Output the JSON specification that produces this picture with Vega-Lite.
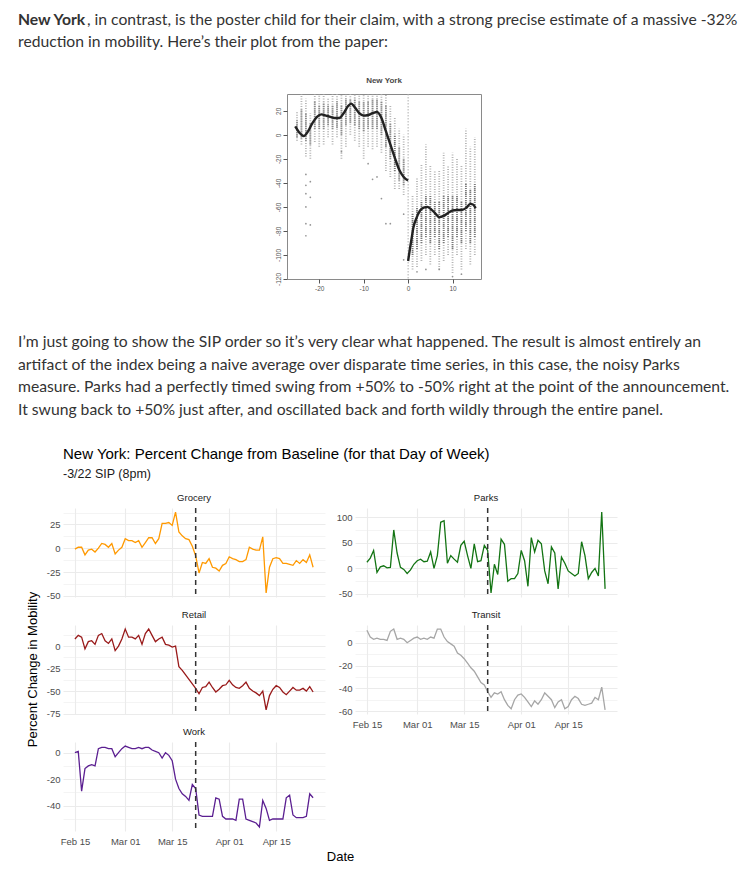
{
"$schema": "https://vega.github.io/schema/vega-lite/v6.json",
"background": "white",
"padding": 0,
"autosize": {"type": "pad"},
"spacing": 0,
"config": {
  "view": {"stroke": null},
  "font": "Liberation Sans",
  "axis": {"labelFont": "Liberation Sans", "titleFont": "Liberation Sans", "labelFlush": false, "labelOverlap": false},
  "axisX": {"labelOverlap": false},
  "axisY": {"labelOverlap": false},
  "title": {"font": "Liberation Sans", "subtitleFont": "Liberation Sans"}
},
"datasets": {
  "blog": [
    {"block": "intro", "line": 1, "weight": "bold", "text": "New York"},
    {"block": "intro", "line": 1, "weight": "normal", "text": ", in contrast, is the poster child for their claim, with a strong precise estimate of a massive -32%"},
    {"block": "intro", "line": 2, "weight": "normal", "text": "reduction in mobility. Here’s their plot from the paper:"},
    {"block": "para", "line": 1, "weight": "normal", "text": "I’m just going to show the SIP order so it’s very clear what happened. The result is almost entirely an"},
    {"block": "para", "line": 2, "weight": "normal", "text": "artifact of the index being a naive average over disparate time series, in this case, the noisy Parks"},
    {"block": "para", "line": 3, "weight": "normal", "text": "measure. Parks had a perfectly timed swing from +50% to -50% right at the point of the announcement."},
    {"block": "para", "line": 4, "weight": "normal", "text": "It swung back to +50% just after, and oscillated back and forth wildly through the entire panel."}
  ],
  "ny_zero": [{"day": 0}],
  "ny_cols": [
    {"day": -25, "lo": -5, "hi": 20, "lo2": -2, "hi2": 12},
    {"day": -24, "lo": -8, "hi": 34, "lo2": -3, "hi2": 22},
    {"day": -23, "lo": -18, "hi": 30, "lo2": -5, "hi2": 18},
    {"day": -22, "lo": -20, "hi": 18, "lo2": -8, "hi2": 10},
    {"day": -21, "lo": -6, "hi": 34, "lo2": 5, "hi2": 28},
    {"day": -20, "lo": -10, "hi": 34, "lo2": 5, "hi2": 25},
    {"day": -19, "lo": -8, "hi": 34, "lo2": 5, "hi2": 27},
    {"day": -18, "lo": -2, "hi": 30, "lo2": 8, "hi2": 25},
    {"day": -17, "lo": -8, "hi": 34, "lo2": 5, "hi2": 25},
    {"day": -16, "lo": -2, "hi": 34, "lo2": 6, "hi2": 28},
    {"day": -15, "lo": -20, "hi": 34, "lo2": 0, "hi2": 25},
    {"day": -14, "lo": -10, "hi": 34, "lo2": 8, "hi2": 30},
    {"day": -13, "lo": 0, "hi": 34, "lo2": 10, "hi2": 30},
    {"day": -12, "lo": -5, "hi": 34, "lo2": 8, "hi2": 30},
    {"day": -11, "lo": -10, "hi": 34, "lo2": 5, "hi2": 28},
    {"day": -10, "lo": -20, "hi": 34, "lo2": 3, "hi2": 28},
    {"day": -9, "lo": -10, "hi": 34, "lo2": 5, "hi2": 28},
    {"day": -8, "lo": -12, "hi": 34, "lo2": 5, "hi2": 30},
    {"day": -7, "lo": -10, "hi": 34, "lo2": 5, "hi2": 30},
    {"day": -6, "lo": -15, "hi": 34, "lo2": 0, "hi2": 28},
    {"day": -5, "lo": -30, "hi": 34, "lo2": -10, "hi2": 25},
    {"day": -4, "lo": -35, "hi": 25, "lo2": -20, "hi2": 10},
    {"day": -3, "lo": -45, "hi": 15, "lo2": -30, "hi2": 0},
    {"day": -2, "lo": -45, "hi": 5, "lo2": -38, "hi2": -10},
    {"day": -1, "lo": -50, "hi": 0, "lo2": -42, "hi2": -20},
    {"day": 1, "lo": -112, "hi": -50, "lo2": -100, "hi2": -65},
    {"day": 2, "lo": -110, "hi": -35, "lo2": -95, "hi2": -60},
    {"day": 3, "lo": -105, "hi": -25, "lo2": -90, "hi2": -55},
    {"day": 4, "lo": -100, "hi": -8, "lo2": -85, "hi2": -50},
    {"day": 5, "lo": -108, "hi": -25, "lo2": -90, "hi2": -50},
    {"day": 6, "lo": -100, "hi": -30, "lo2": -85, "hi2": -55},
    {"day": 7, "lo": -112, "hi": -30, "lo2": -95, "hi2": -55},
    {"day": 8, "lo": -105, "hi": -15, "lo2": -90, "hi2": -50},
    {"day": 9, "lo": -100, "hi": -25, "lo2": -85, "hi2": -50},
    {"day": 10, "lo": -115, "hi": -15, "lo2": -95, "hi2": -50},
    {"day": 11, "lo": -100, "hi": -20, "lo2": -85, "hi2": -50},
    {"day": 12, "lo": -112, "hi": -25, "lo2": -90, "hi2": -55},
    {"day": 13, "lo": -95, "hi": 5, "lo2": -80, "hi2": -40},
    {"day": 14, "lo": -108, "hi": -10, "lo2": -90, "hi2": -45},
    {"day": 15, "lo": -100, "hi": -2, "lo2": -85, "hi2": -40}
  ],
  "ny_out": [
    {"day": -23, "y": -33}, {"day": -23, "y": -42}, {"day": -23, "y": -49}, {"day": -23, "y": -60},
    {"day": -23, "y": -74}, {"day": -23, "y": -84}, {"day": -22, "y": -39}, {"day": -22, "y": -52},
    {"day": -22, "y": -75}, {"day": -15, "y": -14}, {"day": -9, "y": -24}, {"day": -8, "y": -37},
    {"day": -7, "y": -35}, {"day": -6, "y": -53}, {"day": -5, "y": -74}, {"day": -4, "y": -74},
    {"day": -1, "y": -66}, {"day": -1, "y": -104}, {"day": 2, "y": -114}, {"day": 4, "y": -112},
    {"day": 7, "y": -112}, {"day": 10, "y": -118}, {"day": 12, "y": -116}
  ],
  "ny_fit": [
    {"seg": "pre", "day": -25.4, "fit": 7}, {"seg": "pre", "day": -24.5, "fit": 2}, {"seg": "pre", "day": -23.5, "fit": -1},
    {"seg": "pre", "day": -22.5, "fit": 3}, {"seg": "pre", "day": -21.5, "fit": 10}, {"seg": "pre", "day": -20.5, "fit": 15},
    {"seg": "pre", "day": -19.5, "fit": 17}, {"seg": "pre", "day": -18.5, "fit": 16}, {"seg": "pre", "day": -17.5, "fit": 15},
    {"seg": "pre", "day": -16.5, "fit": 14}, {"seg": "pre", "day": -15.5, "fit": 14}, {"seg": "pre", "day": -14.5, "fit": 18},
    {"seg": "pre", "day": -13.5, "fit": 24}, {"seg": "pre", "day": -12.8, "fit": 26}, {"seg": "pre", "day": -12, "fit": 23},
    {"seg": "pre", "day": -11, "fit": 18}, {"seg": "pre", "day": -10, "fit": 16}, {"seg": "pre", "day": -9, "fit": 16.5},
    {"seg": "pre", "day": -8, "fit": 18}, {"seg": "pre", "day": -7, "fit": 19}, {"seg": "pre", "day": -6, "fit": 14},
    {"seg": "pre", "day": -5, "fit": 3}, {"seg": "pre", "day": -4, "fit": -8}, {"seg": "pre", "day": -3, "fit": -19},
    {"seg": "pre", "day": -2, "fit": -29}, {"seg": "pre", "day": -1, "fit": -35}, {"seg": "pre", "day": 0, "fit": -38},
    {"seg": "post", "day": 0, "fit": -105}, {"seg": "post", "day": 0.4, "fit": -95}, {"seg": "post", "day": 0.8, "fit": -86},
    {"seg": "post", "day": 1.2, "fit": -77}, {"seg": "post", "day": 1.8, "fit": -70}, {"seg": "post", "day": 2.7, "fit": -63},
    {"seg": "post", "day": 3.5, "fit": -60.5}, {"seg": "post", "day": 4.3, "fit": -60}, {"seg": "post", "day": 5.2, "fit": -62},
    {"seg": "post", "day": 6, "fit": -65}, {"seg": "post", "day": 7, "fit": -68.5}, {"seg": "post", "day": 8, "fit": -67.5},
    {"seg": "post", "day": 9, "fit": -65}, {"seg": "post", "day": 10, "fit": -63}, {"seg": "post", "day": 11, "fit": -62.5},
    {"seg": "post", "day": 12, "fit": -62.5}, {"seg": "post", "day": 13, "fit": -61}, {"seg": "post", "day": 14, "fit": -57.5},
    {"seg": "post", "day": 14.6, "fit": -58}, {"seg": "post", "day": 15.2, "fit": -61}
  ],
  "sip": [{"event": "SIP", "date": "2020-03-22"}],
  "mobility": [
{"cat":"Grocery","date":"2020-02-15","pct":-1},{"cat":"Grocery","date":"2020-02-16","pct":1},{"cat":"Grocery","date":"2020-02-17","pct":1},{"cat":"Grocery","date":"2020-02-18","pct":-7},{"cat":"Grocery","date":"2020-02-19","pct":-2},{"cat":"Grocery","date":"2020-02-20","pct":-1},{"cat":"Grocery","date":"2020-02-21","pct":-4},{"cat":"Grocery","date":"2020-02-22","pct":0},{"cat":"Grocery","date":"2020-02-23","pct":5},{"cat":"Grocery","date":"2020-02-24","pct":4},
{"cat":"Grocery","date":"2020-02-25","pct":1},{"cat":"Grocery","date":"2020-02-26","pct":5},{"cat":"Grocery","date":"2020-02-27","pct":-6},{"cat":"Grocery","date":"2020-02-28","pct":-2},{"cat":"Grocery","date":"2020-02-29","pct":1},{"cat":"Grocery","date":"2020-03-01","pct":10},{"cat":"Grocery","date":"2020-03-02","pct":8},{"cat":"Grocery","date":"2020-03-03","pct":8},{"cat":"Grocery","date":"2020-03-04","pct":6},{"cat":"Grocery","date":"2020-03-05","pct":8},
{"cat":"Grocery","date":"2020-03-06","pct":1},{"cat":"Grocery","date":"2020-03-07","pct":6},{"cat":"Grocery","date":"2020-03-08","pct":11},{"cat":"Grocery","date":"2020-03-09","pct":11},{"cat":"Grocery","date":"2020-03-10","pct":5},{"cat":"Grocery","date":"2020-03-11","pct":10},{"cat":"Grocery","date":"2020-03-12","pct":26},{"cat":"Grocery","date":"2020-03-13","pct":26},{"cat":"Grocery","date":"2020-03-14","pct":27},{"cat":"Grocery","date":"2020-03-15","pct":24},
{"cat":"Grocery","date":"2020-03-16","pct":38},{"cat":"Grocery","date":"2020-03-17","pct":17},{"cat":"Grocery","date":"2020-03-18","pct":13},{"cat":"Grocery","date":"2020-03-19","pct":10},{"cat":"Grocery","date":"2020-03-20","pct":9},{"cat":"Grocery","date":"2020-03-21","pct":2},{"cat":"Grocery","date":"2020-03-22","pct":-8},{"cat":"Grocery","date":"2020-03-23","pct":-26},{"cat":"Grocery","date":"2020-03-24","pct":-15},{"cat":"Grocery","date":"2020-03-25","pct":-16},
{"cat":"Grocery","date":"2020-03-26","pct":-11},{"cat":"Grocery","date":"2020-03-27","pct":-20},{"cat":"Grocery","date":"2020-03-28","pct":-21},{"cat":"Grocery","date":"2020-03-29","pct":-24},{"cat":"Grocery","date":"2020-03-30","pct":-18},{"cat":"Grocery","date":"2020-03-31","pct":-16},{"cat":"Grocery","date":"2020-04-01","pct":-9},{"cat":"Grocery","date":"2020-04-02","pct":-11},{"cat":"Grocery","date":"2020-04-03","pct":-12},{"cat":"Grocery","date":"2020-04-04","pct":-14},
{"cat":"Grocery","date":"2020-04-05","pct":-14},{"cat":"Grocery","date":"2020-04-06","pct":-12},{"cat":"Grocery","date":"2020-04-07","pct":1},{"cat":"Grocery","date":"2020-04-08","pct":-1},{"cat":"Grocery","date":"2020-04-09","pct":-2},{"cat":"Grocery","date":"2020-04-10","pct":-2},{"cat":"Grocery","date":"2020-04-11","pct":12},{"cat":"Grocery","date":"2020-04-12","pct":-47},{"cat":"Grocery","date":"2020-04-13","pct":-20},{"cat":"Grocery","date":"2020-04-14","pct":-11},
{"cat":"Grocery","date":"2020-04-15","pct":-10},{"cat":"Grocery","date":"2020-04-16","pct":-11},{"cat":"Grocery","date":"2020-04-17","pct":-16},{"cat":"Grocery","date":"2020-04-18","pct":-16},{"cat":"Grocery","date":"2020-04-19","pct":-17},{"cat":"Grocery","date":"2020-04-20","pct":-18},{"cat":"Grocery","date":"2020-04-21","pct":-13},{"cat":"Grocery","date":"2020-04-22","pct":-16},{"cat":"Grocery","date":"2020-04-23","pct":-12},{"cat":"Grocery","date":"2020-04-24","pct":-15},
{"cat":"Grocery","date":"2020-04-25","pct":-7},{"cat":"Grocery","date":"2020-04-26","pct":-20},
{"cat":"Parks","date":"2020-02-15","pct":12},{"cat":"Parks","date":"2020-02-16","pct":20},{"cat":"Parks","date":"2020-02-17","pct":35},{"cat":"Parks","date":"2020-02-18","pct":-8},{"cat":"Parks","date":"2020-02-19","pct":3},{"cat":"Parks","date":"2020-02-20","pct":5},{"cat":"Parks","date":"2020-02-21","pct":1},{"cat":"Parks","date":"2020-02-22","pct":2},{"cat":"Parks","date":"2020-02-23","pct":75},{"cat":"Parks","date":"2020-02-24","pct":30},
{"cat":"Parks","date":"2020-02-25","pct":2},{"cat":"Parks","date":"2020-02-26","pct":-2},{"cat":"Parks","date":"2020-02-27","pct":-10},{"cat":"Parks","date":"2020-02-28","pct":-3},{"cat":"Parks","date":"2020-02-29","pct":8},{"cat":"Parks","date":"2020-03-01","pct":15},{"cat":"Parks","date":"2020-03-02","pct":18},{"cat":"Parks","date":"2020-03-03","pct":13},{"cat":"Parks","date":"2020-03-04","pct":14},{"cat":"Parks","date":"2020-03-05","pct":32},
{"cat":"Parks","date":"2020-03-06","pct":0},{"cat":"Parks","date":"2020-03-07","pct":25},{"cat":"Parks","date":"2020-03-08","pct":90},{"cat":"Parks","date":"2020-03-09","pct":93},{"cat":"Parks","date":"2020-03-10","pct":10},{"cat":"Parks","date":"2020-03-11","pct":25},{"cat":"Parks","date":"2020-03-12","pct":18},{"cat":"Parks","date":"2020-03-13","pct":12},{"cat":"Parks","date":"2020-03-14","pct":45},{"cat":"Parks","date":"2020-03-15","pct":53},
{"cat":"Parks","date":"2020-03-16","pct":25},{"cat":"Parks","date":"2020-03-17","pct":0},{"cat":"Parks","date":"2020-03-18","pct":48},{"cat":"Parks","date":"2020-03-19","pct":13},{"cat":"Parks","date":"2020-03-20","pct":15},{"cat":"Parks","date":"2020-03-21","pct":45},{"cat":"Parks","date":"2020-03-22","pct":35},{"cat":"Parks","date":"2020-03-23","pct":-48},{"cat":"Parks","date":"2020-03-24","pct":8},{"cat":"Parks","date":"2020-03-25","pct":-12},
{"cat":"Parks","date":"2020-03-26","pct":57},{"cat":"Parks","date":"2020-03-27","pct":47},{"cat":"Parks","date":"2020-03-28","pct":-25},{"cat":"Parks","date":"2020-03-29","pct":-20},{"cat":"Parks","date":"2020-03-30","pct":-20},{"cat":"Parks","date":"2020-03-31","pct":-10},{"cat":"Parks","date":"2020-04-01","pct":35},{"cat":"Parks","date":"2020-04-02","pct":15},{"cat":"Parks","date":"2020-04-03","pct":-35},{"cat":"Parks","date":"2020-04-04","pct":60},
{"cat":"Parks","date":"2020-04-05","pct":32},{"cat":"Parks","date":"2020-04-06","pct":55},{"cat":"Parks","date":"2020-04-07","pct":48},{"cat":"Parks","date":"2020-04-08","pct":-5},{"cat":"Parks","date":"2020-04-09","pct":-30},{"cat":"Parks","date":"2020-04-10","pct":42},{"cat":"Parks","date":"2020-04-11","pct":30},{"cat":"Parks","date":"2020-04-12","pct":-40},{"cat":"Parks","date":"2020-04-13","pct":22},{"cat":"Parks","date":"2020-04-14","pct":10},
{"cat":"Parks","date":"2020-04-15","pct":-5},{"cat":"Parks","date":"2020-04-16","pct":-10},{"cat":"Parks","date":"2020-04-17","pct":-15},{"cat":"Parks","date":"2020-04-18","pct":-10},{"cat":"Parks","date":"2020-04-19","pct":52},{"cat":"Parks","date":"2020-04-20","pct":25},{"cat":"Parks","date":"2020-04-21","pct":-20},{"cat":"Parks","date":"2020-04-22","pct":-8},{"cat":"Parks","date":"2020-04-23","pct":0},{"cat":"Parks","date":"2020-04-24","pct":-15},
{"cat":"Parks","date":"2020-04-25","pct":110},{"cat":"Parks","date":"2020-04-26","pct":-40},
{"cat":"Retail","date":"2020-02-15","pct":8},{"cat":"Retail","date":"2020-02-16","pct":12},{"cat":"Retail","date":"2020-02-17","pct":10},{"cat":"Retail","date":"2020-02-18","pct":-3},{"cat":"Retail","date":"2020-02-19","pct":5},{"cat":"Retail","date":"2020-02-20","pct":6},{"cat":"Retail","date":"2020-02-21","pct":2},{"cat":"Retail","date":"2020-02-22","pct":12},{"cat":"Retail","date":"2020-02-23","pct":14},{"cat":"Retail","date":"2020-02-24","pct":6},
{"cat":"Retail","date":"2020-02-25","pct":3},{"cat":"Retail","date":"2020-02-26","pct":8},{"cat":"Retail","date":"2020-02-27","pct":-5},{"cat":"Retail","date":"2020-02-28","pct":0},{"cat":"Retail","date":"2020-02-29","pct":8},{"cat":"Retail","date":"2020-03-01","pct":19},{"cat":"Retail","date":"2020-03-02","pct":10},{"cat":"Retail","date":"2020-03-03","pct":10},{"cat":"Retail","date":"2020-03-04","pct":8},{"cat":"Retail","date":"2020-03-05","pct":12},
{"cat":"Retail","date":"2020-03-06","pct":2},{"cat":"Retail","date":"2020-03-07","pct":14},{"cat":"Retail","date":"2020-03-08","pct":19},{"cat":"Retail","date":"2020-03-09","pct":12},{"cat":"Retail","date":"2020-03-10","pct":5},{"cat":"Retail","date":"2020-03-11","pct":8},{"cat":"Retail","date":"2020-03-12","pct":10},{"cat":"Retail","date":"2020-03-13","pct":2},{"cat":"Retail","date":"2020-03-14","pct":1},{"cat":"Retail","date":"2020-03-15","pct":-1},
{"cat":"Retail","date":"2020-03-16","pct":0},{"cat":"Retail","date":"2020-03-17","pct":-23},{"cat":"Retail","date":"2020-03-18","pct":-27},{"cat":"Retail","date":"2020-03-19","pct":-32},{"cat":"Retail","date":"2020-03-20","pct":-37},{"cat":"Retail","date":"2020-03-21","pct":-42},{"cat":"Retail","date":"2020-03-22","pct":-47},{"cat":"Retail","date":"2020-03-23","pct":-53},{"cat":"Retail","date":"2020-03-24","pct":-46},{"cat":"Retail","date":"2020-03-25","pct":-45},
{"cat":"Retail","date":"2020-03-26","pct":-40},{"cat":"Retail","date":"2020-03-27","pct":-46},{"cat":"Retail","date":"2020-03-28","pct":-51},{"cat":"Retail","date":"2020-03-29","pct":-48},{"cat":"Retail","date":"2020-03-30","pct":-44},{"cat":"Retail","date":"2020-03-31","pct":-43},{"cat":"Retail","date":"2020-04-01","pct":-38},{"cat":"Retail","date":"2020-04-02","pct":-43},{"cat":"Retail","date":"2020-04-03","pct":-46},{"cat":"Retail","date":"2020-04-04","pct":-47},
{"cat":"Retail","date":"2020-04-05","pct":-44},{"cat":"Retail","date":"2020-04-06","pct":-40},{"cat":"Retail","date":"2020-04-07","pct":-47},{"cat":"Retail","date":"2020-04-08","pct":-50},{"cat":"Retail","date":"2020-04-09","pct":-52},{"cat":"Retail","date":"2020-04-10","pct":-55},{"cat":"Retail","date":"2020-04-11","pct":-50},{"cat":"Retail","date":"2020-04-12","pct":-71},{"cat":"Retail","date":"2020-04-13","pct":-55},{"cat":"Retail","date":"2020-04-14","pct":-48},
{"cat":"Retail","date":"2020-04-15","pct":-44},{"cat":"Retail","date":"2020-04-16","pct":-46},{"cat":"Retail","date":"2020-04-17","pct":-51},{"cat":"Retail","date":"2020-04-18","pct":-54},{"cat":"Retail","date":"2020-04-19","pct":-50},{"cat":"Retail","date":"2020-04-20","pct":-46},{"cat":"Retail","date":"2020-04-21","pct":-49},{"cat":"Retail","date":"2020-04-22","pct":-49},{"cat":"Retail","date":"2020-04-23","pct":-47},{"cat":"Retail","date":"2020-04-24","pct":-50},
{"cat":"Retail","date":"2020-04-25","pct":-45},{"cat":"Retail","date":"2020-04-26","pct":-51},
{"cat":"Transit","date":"2020-02-15","pct":11},{"cat":"Transit","date":"2020-02-16","pct":5},{"cat":"Transit","date":"2020-02-17","pct":3},{"cat":"Transit","date":"2020-02-18","pct":4},{"cat":"Transit","date":"2020-02-19","pct":3},{"cat":"Transit","date":"2020-02-20","pct":3},{"cat":"Transit","date":"2020-02-21","pct":2},{"cat":"Transit","date":"2020-02-22","pct":10},{"cat":"Transit","date":"2020-02-23","pct":12},{"cat":"Transit","date":"2020-02-24","pct":3},
{"cat":"Transit","date":"2020-02-25","pct":4},{"cat":"Transit","date":"2020-02-26","pct":3},{"cat":"Transit","date":"2020-02-27","pct":0},{"cat":"Transit","date":"2020-02-28","pct":2},{"cat":"Transit","date":"2020-02-29","pct":4},{"cat":"Transit","date":"2020-03-01","pct":5},{"cat":"Transit","date":"2020-03-02","pct":3},{"cat":"Transit","date":"2020-03-03","pct":4},{"cat":"Transit","date":"2020-03-04","pct":3},{"cat":"Transit","date":"2020-03-05","pct":5},
{"cat":"Transit","date":"2020-03-06","pct":4},{"cat":"Transit","date":"2020-03-07","pct":12},{"cat":"Transit","date":"2020-03-08","pct":12},{"cat":"Transit","date":"2020-03-09","pct":5},{"cat":"Transit","date":"2020-03-10","pct":1},{"cat":"Transit","date":"2020-03-11","pct":-1},{"cat":"Transit","date":"2020-03-12","pct":-3},{"cat":"Transit","date":"2020-03-13","pct":-9},{"cat":"Transit","date":"2020-03-14","pct":-11},{"cat":"Transit","date":"2020-03-15","pct":-14},
{"cat":"Transit","date":"2020-03-16","pct":-18},{"cat":"Transit","date":"2020-03-17","pct":-22},{"cat":"Transit","date":"2020-03-18","pct":-25},{"cat":"Transit","date":"2020-03-19","pct":-30},{"cat":"Transit","date":"2020-03-20","pct":-35},{"cat":"Transit","date":"2020-03-21","pct":-37},{"cat":"Transit","date":"2020-03-22","pct":-43},{"cat":"Transit","date":"2020-03-23","pct":-48},{"cat":"Transit","date":"2020-03-24","pct":-44},{"cat":"Transit","date":"2020-03-25","pct":-45},
{"cat":"Transit","date":"2020-03-26","pct":-43},{"cat":"Transit","date":"2020-03-27","pct":-50},{"cat":"Transit","date":"2020-03-28","pct":-55},{"cat":"Transit","date":"2020-03-29","pct":-58},{"cat":"Transit","date":"2020-03-30","pct":-50},{"cat":"Transit","date":"2020-03-31","pct":-46},{"cat":"Transit","date":"2020-04-01","pct":-45},{"cat":"Transit","date":"2020-04-02","pct":-48},{"cat":"Transit","date":"2020-04-03","pct":-52},{"cat":"Transit","date":"2020-04-04","pct":-56},
{"cat":"Transit","date":"2020-04-05","pct":-51},{"cat":"Transit","date":"2020-04-06","pct":-54},{"cat":"Transit","date":"2020-04-07","pct":-50},{"cat":"Transit","date":"2020-04-08","pct":-44},{"cat":"Transit","date":"2020-04-09","pct":-47},{"cat":"Transit","date":"2020-04-10","pct":-50},{"cat":"Transit","date":"2020-04-11","pct":-57},{"cat":"Transit","date":"2020-04-12","pct":-52},{"cat":"Transit","date":"2020-04-13","pct":-50},{"cat":"Transit","date":"2020-04-14","pct":-58},
{"cat":"Transit","date":"2020-04-15","pct":-56},{"cat":"Transit","date":"2020-04-16","pct":-50},{"cat":"Transit","date":"2020-04-17","pct":-47},{"cat":"Transit","date":"2020-04-18","pct":-49},{"cat":"Transit","date":"2020-04-19","pct":-54},{"cat":"Transit","date":"2020-04-20","pct":-55},{"cat":"Transit","date":"2020-04-21","pct":-54},{"cat":"Transit","date":"2020-04-22","pct":-53},{"cat":"Transit","date":"2020-04-23","pct":-48},{"cat":"Transit","date":"2020-04-24","pct":-50},
{"cat":"Transit","date":"2020-04-25","pct":-39},{"cat":"Transit","date":"2020-04-26","pct":-59},
{"cat":"Work","date":"2020-02-15","pct":0},{"cat":"Work","date":"2020-02-16","pct":1},{"cat":"Work","date":"2020-02-17","pct":-29},{"cat":"Work","date":"2020-02-18","pct":-12},{"cat":"Work","date":"2020-02-19","pct":-10},{"cat":"Work","date":"2020-02-20","pct":-9},{"cat":"Work","date":"2020-02-21","pct":-10},{"cat":"Work","date":"2020-02-22","pct":3},{"cat":"Work","date":"2020-02-23","pct":4},{"cat":"Work","date":"2020-02-24","pct":4},
{"cat":"Work","date":"2020-02-25","pct":3},{"cat":"Work","date":"2020-02-26","pct":3},{"cat":"Work","date":"2020-02-27","pct":-3},{"cat":"Work","date":"2020-02-28","pct":0},{"cat":"Work","date":"2020-02-29","pct":3},{"cat":"Work","date":"2020-03-01","pct":5},{"cat":"Work","date":"2020-03-02","pct":4},{"cat":"Work","date":"2020-03-03","pct":3},{"cat":"Work","date":"2020-03-04","pct":3},{"cat":"Work","date":"2020-03-05","pct":4},
{"cat":"Work","date":"2020-03-06","pct":3},{"cat":"Work","date":"2020-03-07","pct":4},{"cat":"Work","date":"2020-03-08","pct":4},{"cat":"Work","date":"2020-03-09","pct":2},{"cat":"Work","date":"2020-03-10","pct":1},{"cat":"Work","date":"2020-03-11","pct":0},{"cat":"Work","date":"2020-03-12","pct":-4},{"cat":"Work","date":"2020-03-13","pct":0},{"cat":"Work","date":"2020-03-14","pct":-2},{"cat":"Work","date":"2020-03-15","pct":-6},
{"cat":"Work","date":"2020-03-16","pct":-20},{"cat":"Work","date":"2020-03-17","pct":-27},{"cat":"Work","date":"2020-03-18","pct":-31},{"cat":"Work","date":"2020-03-19","pct":-33},{"cat":"Work","date":"2020-03-20","pct":-36},{"cat":"Work","date":"2020-03-21","pct":-24},{"cat":"Work","date":"2020-03-22","pct":-27},{"cat":"Work","date":"2020-03-23","pct":-47},{"cat":"Work","date":"2020-03-24","pct":-48},{"cat":"Work","date":"2020-03-25","pct":-48},
{"cat":"Work","date":"2020-03-26","pct":-48},{"cat":"Work","date":"2020-03-27","pct":-48},{"cat":"Work","date":"2020-03-28","pct":-34},{"cat":"Work","date":"2020-03-29","pct":-35},{"cat":"Work","date":"2020-03-30","pct":-48},{"cat":"Work","date":"2020-03-31","pct":-50},{"cat":"Work","date":"2020-04-01","pct":-50},{"cat":"Work","date":"2020-04-02","pct":-50},{"cat":"Work","date":"2020-04-03","pct":-51},{"cat":"Work","date":"2020-04-04","pct":-35},
{"cat":"Work","date":"2020-04-05","pct":-35},{"cat":"Work","date":"2020-04-06","pct":-50},{"cat":"Work","date":"2020-04-07","pct":-51},{"cat":"Work","date":"2020-04-08","pct":-52},{"cat":"Work","date":"2020-04-09","pct":-53},{"cat":"Work","date":"2020-04-10","pct":-56},{"cat":"Work","date":"2020-04-11","pct":-36},{"cat":"Work","date":"2020-04-12","pct":-42},{"cat":"Work","date":"2020-04-13","pct":-51},{"cat":"Work","date":"2020-04-14","pct":-50},
{"cat":"Work","date":"2020-04-15","pct":-50},{"cat":"Work","date":"2020-04-16","pct":-50},{"cat":"Work","date":"2020-04-17","pct":-50},{"cat":"Work","date":"2020-04-18","pct":-34},{"cat":"Work","date":"2020-04-19","pct":-32},{"cat":"Work","date":"2020-04-20","pct":-47},{"cat":"Work","date":"2020-04-21","pct":-49},{"cat":"Work","date":"2020-04-22","pct":-49},{"cat":"Work","date":"2020-04-23","pct":-49},{"cat":"Work","date":"2020-04-24","pct":-48},
{"cat":"Work","date":"2020-04-25","pct":-31},{"cat":"Work","date":"2020-04-26","pct":-34}
  ]
},
"vconcat": [
  {
    "width": 36, "height": 76,
    "data": {"name": "blog"},
    "transform": [{"filter": "datum.block === 'intro'"}],
    "encoding": {
      "y": {"field": "line", "type": "ordinal", "scale": {"type": "point", "range": [20, 42], "padding": 0}, "axis": null},
      "text": {"field": "text"}
    },
    "layer": [
      {"transform": [{"filter": "datum.weight === 'bold'"}], "mark": {"type": "text", "align": "left", "baseline": "middle", "font": "Lato", "fontSize": 15.7, "fontWeight": "bold", "color": "#333333"}},
      {"transform": [{"filter": "datum.weight === 'normal' && datum.line === 1"}], "mark": {"type": "text", "align": "left", "baseline": "middle", "font": "Lato", "fontSize": 15.7, "color": "#333333", "dx": 69}},
      {"transform": [{"filter": "datum.weight === 'normal' && datum.line !== 1"}], "mark": {"type": "text", "align": "left", "baseline": "middle", "font": "Lato", "fontSize": 15.7, "color": "#333333"}}
    ]
  },
  {
    "hconcat": [
      {"width": 287, "height": 185, "data": {"values": [{}]}, "mark": {"type": "point", "opacity": 0}},
      {
        "width": 194, "height": 185,
        "view": {"stroke": "#8a8a8a", "strokeWidth": 1},
        "title": {"text": "New York", "fontSize": 8, "fontWeight": "bold", "color": "#4a4a4a", "offset": 8, "anchor": "middle", "frame": "group"},
        "layer": [
          {"data": {"name": "ny_zero"}, "mark": {"type": "rule", "color": "#b0b0b0", "strokeDash": [1.5, 1.5], "strokeWidth": 1},
           "encoding": {"x": {"field": "day", "type": "quantitative", "title": null, "scale": {"domain": [-27.25, 16.4], "nice": false, "zero": false},
             "axis": {"values": [-20, -10, 0, 10], "labelExpr": "'' + datum.value", "grid": false, "domain": false, "ticks": true, "tickSize": 4, "tickColor": "#555555", "labelFontSize": 6.5, "labelColor": "#555555", "labelPadding": 2, "labelOverlap": false, "title": null}}}},
          {"data": {"name": "ny_cols"}, "mark": {"type": "rule", "color": "#b4b4b4", "strokeDash": [1, 1.5], "strokeWidth": 1.8},
           "encoding": {"x": {"field": "day", "type": "quantitative", "title": null},
             "y": {"field": "lo", "type": "quantitative", "title": null, "scale": {"domain": [-120, 34], "nice": false, "zero": false},
               "axis": {"values": [20, 0, -20, -40, -60, -80, -100, -120], "labelExpr": "'' + datum.value", "labelAngle": -90, "grid": false, "domain": false, "ticks": true, "tickSize": 4, "tickColor": "#555555", "labelFontSize": 6.5, "labelColor": "#555555", "labelPadding": 2, "labelOverlap": false, "title": null}},
             "y2": {"field": "hi"}}},
          {"data": {"name": "ny_cols"}, "mark": {"type": "rule", "color": "#7a7a7a", "strokeDash": [1, 1], "strokeWidth": 1.8},
           "encoding": {"x": {"field": "day", "type": "quantitative", "title": null},
             "y": {"field": "lo2", "type": "quantitative", "title": null,
               "axis": {"values": [20, 0, -20, -40, -60, -80, -100, -120], "labelExpr": "'' + datum.value", "labelAngle": -90, "grid": false, "domain": false, "ticks": true, "tickSize": 4, "tickColor": "#555555", "labelFontSize": 6.5, "labelColor": "#555555", "labelPadding": 2, "labelOverlap": false, "title": null}},
             "y2": {"field": "hi2"}}},
          {"data": {"name": "ny_out"}, "mark": {"type": "circle", "color": "#888888", "size": 3, "opacity": 0.9},
           "encoding": {"x": {"field": "day", "type": "quantitative", "title": null},
             "y": {"field": "y", "type": "quantitative", "title": null,
               "axis": {"values": [20, 0, -20, -40, -60, -80, -100, -120], "labelExpr": "'' + datum.value", "labelAngle": -90, "grid": false, "domain": false, "ticks": true, "tickSize": 4, "tickColor": "#555555", "labelFontSize": 6.5, "labelColor": "#555555", "labelPadding": 2, "labelOverlap": false, "title": null}}}},
          {"data": {"name": "ny_fit"}, "mark": {"type": "line", "color": "#222222", "strokeWidth": 2.4, "interpolate": "monotone"},
           "encoding": {"x": {"field": "day", "type": "quantitative", "title": null},
             "y": {"field": "fit", "type": "quantitative", "title": null,
               "axis": {"values": [20, 0, -20, -40, -60, -80, -100, -120], "labelExpr": "'' + datum.value", "labelAngle": -90, "grid": false, "domain": false, "ticks": true, "tickSize": 4, "tickColor": "#555555", "labelFontSize": 6.5, "labelColor": "#555555", "labelPadding": 2, "labelOverlap": false, "title": null}},
             "detail": {"field": "seg"}}}
        ]
      }
    ],
    "spacing": 0, "bounds": "flush"
  },
  {
    "width": 36, "height": 155,
    "data": {"name": "blog"},
    "transform": [{"filter": "datum.block === 'para'"}],
    "mark": {"type": "text", "align": "left", "baseline": "middle", "font": "Lato", "fontSize": 15.7, "color": "#333333"},
    "encoding": {
      "y": {"field": "line", "type": "ordinal", "scale": {"type": "point", "range": [50, 118], "padding": 0}, "axis": null},
      "text": {"field": "text"}
    }
  },
  {
    "hconcat": [
      {"width": 63, "height": 323, "data": {"values": [{}]}, "mark": {"type": "point", "opacity": 0}},
      {
        "title": {"text": "New York: Percent Change from Baseline (for that Day of Week)", "subtitle": "-3/22 SIP (8pm)", "anchor": "start", "frame": "group", "fontSize": 15, "fontWeight": "normal", "color": "#000000", "subtitleFontSize": 12.5, "subtitleColor": "#1a1a1a", "subtitlePadding": 6, "offset": 12},
        "columns": 2,
        "spacing": {"row": 28, "column": 30},
        "bounds": "flush",
        "concat": [
          {
            "width": 262, "height": 89,
            "title": {"text": "Grocery", "fontSize": 9.5, "fontWeight": "normal", "color": "#1a1a1a", "offset": 5, "anchor": "middle", "frame": "group"},
            "layer": [
              {"data": {"name": "mobility"},
               "transform": [{"filter": "datum.cat === 'Grocery'"}],
               "mark": {"type": "line", "color": "#ff9900", "strokeWidth": 1.3},
               "encoding": {
                 "x": {"field": "date", "type": "temporal", "title": null,
                   "scale": {"type": "utc", "domain": [{"year": 2020, "month": 2, "date": 11, "hours": 10, "minutes": 48, "utc": true}, {"year": 2020, "month": 4, "date": 29, "hours": 13, "minutes": 12, "utc": true}]},
                   "axis": {"values": [{"year": 2020, "month": 2, "date": 15, "utc": true}, {"year": 2020, "month": 2, "date": 22, "hours": 12, "utc": true}, {"year": 2020, "month": 3, "date": 1, "utc": true}, {"year": 2020, "month": 3, "date": 8, "utc": true}, {"year": 2020, "month": 3, "date": 15, "utc": true}, {"year": 2020, "month": 3, "date": 23, "hours": 12, "utc": true}, {"year": 2020, "month": 4, "date": 1, "utc": true}, {"year": 2020, "month": 4, "date": 8, "utc": true}, {"year": 2020, "month": 4, "date": 15, "utc": true}, {"year": 2020, "month": 4, "date": 23, "utc": true}],
                     "labels": false, "ticks": false, "domain": false, "grid": true, "gridColor": "#ebebeb",
                     "gridWidth": {"condition": {"test": "utcdate(datum.value) == 1 || utcdate(datum.value) == 15", "value": 1.1}, "value": 0.55}, "title": null}},
                 "y": {"field": "pct", "type": "quantitative", "scale": {"domain": [-51.25, 42.25], "nice": false, "zero": false},
                   "axis": {"values": [-50, -37.5, -25, -12.5, 0, 12.5, 25, 37.5], "labelExpr": "datum.value % 25 == 0 ? '' + datum.value : ''",
                     "ticks": false, "domain": false, "grid": true, "gridColor": "#ebebeb",
                     "gridWidth": {"condition": {"test": "datum.value % 25 == 0", "value": 1.1}, "value": 0.55},
                     "labelFontSize": 9.5, "labelColor": "#4d4d4d", "labelPadding": 3,
                     "title": "Percent Change in Mobility", "titleFontSize": 13, "titleFontWeight": "normal", "titleColor": "#000000",
                     "titleX": -31, "titleY": 161, "titleAngle": -90, "titleBaseline": "middle", "titleAlign": "center"}}
               }},
              {"data": {"name": "sip"},
               "mark": {"type": "rule", "color": "#333333", "strokeDash": [5, 4], "strokeWidth": 1.5},
               "encoding": {"x": {"field": "date", "type": "temporal", "title": null}}}
            ]
          },
          {
            "width": 262, "height": 89,
            "title": {"text": "Parks", "fontSize": 9.5, "fontWeight": "normal", "color": "#1a1a1a", "offset": 5, "anchor": "middle", "frame": "group"},
            "layer": [
              {"data": {"name": "mobility"},
               "transform": [{"filter": "datum.cat === 'Parks'"}],
               "mark": {"type": "line", "color": "#137413", "strokeWidth": 1.3},
               "encoding": {
                 "x": {"field": "date", "type": "temporal", "title": null,
                   "scale": {"type": "utc", "domain": [{"year": 2020, "month": 2, "date": 11, "hours": 10, "minutes": 48, "utc": true}, {"year": 2020, "month": 4, "date": 29, "hours": 13, "minutes": 12, "utc": true}]},
                   "axis": {"values": [{"year": 2020, "month": 2, "date": 15, "utc": true}, {"year": 2020, "month": 2, "date": 22, "hours": 12, "utc": true}, {"year": 2020, "month": 3, "date": 1, "utc": true}, {"year": 2020, "month": 3, "date": 8, "utc": true}, {"year": 2020, "month": 3, "date": 15, "utc": true}, {"year": 2020, "month": 3, "date": 23, "hours": 12, "utc": true}, {"year": 2020, "month": 4, "date": 1, "utc": true}, {"year": 2020, "month": 4, "date": 8, "utc": true}, {"year": 2020, "month": 4, "date": 15, "utc": true}, {"year": 2020, "month": 4, "date": 23, "utc": true}],
                     "labels": false, "ticks": false, "domain": false, "grid": true, "gridColor": "#ebebeb",
                     "gridWidth": {"condition": {"test": "utcdate(datum.value) == 1 || utcdate(datum.value) == 15", "value": 1.1}, "value": 0.55}, "title": null}},
                 "y": {"field": "pct", "type": "quantitative", "title": null, "scale": {"domain": [-55.9, 117.9], "nice": false, "zero": false},
                   "axis": {"values": [-50, -25, 0, 25, 50, 75, 100], "labelExpr": "datum.value % 50 == 0 ? '' + datum.value : ''",
                     "ticks": false, "domain": false, "grid": true, "gridColor": "#ebebeb",
                     "gridWidth": {"condition": {"test": "datum.value % 50 == 0", "value": 1.1}, "value": 0.55},
                     "labelFontSize": 9.5, "labelColor": "#4d4d4d", "labelPadding": 3, "title": null}}
               }},
              {"data": {"name": "sip"},
               "mark": {"type": "rule", "color": "#333333", "strokeDash": [5, 4], "strokeWidth": 1.5},
               "encoding": {"x": {"field": "date", "type": "temporal", "title": null}}}
            ]
          },
          {
            "width": 262, "height": 89,
            "title": {"text": "Retail", "fontSize": 9.5, "fontWeight": "normal", "color": "#1a1a1a", "offset": 5, "anchor": "middle", "frame": "group"},
            "layer": [
              {"data": {"name": "mobility"},
               "transform": [{"filter": "datum.cat === 'Retail'"}],
               "mark": {"type": "line", "color": "#991a1a", "strokeWidth": 1.3},
               "encoding": {
                 "x": {"field": "date", "type": "temporal", "title": null,
                   "scale": {"type": "utc", "domain": [{"year": 2020, "month": 2, "date": 11, "hours": 10, "minutes": 48, "utc": true}, {"year": 2020, "month": 4, "date": 29, "hours": 13, "minutes": 12, "utc": true}]},
                   "axis": {"values": [{"year": 2020, "month": 2, "date": 15, "utc": true}, {"year": 2020, "month": 2, "date": 22, "hours": 12, "utc": true}, {"year": 2020, "month": 3, "date": 1, "utc": true}, {"year": 2020, "month": 3, "date": 8, "utc": true}, {"year": 2020, "month": 3, "date": 15, "utc": true}, {"year": 2020, "month": 3, "date": 23, "hours": 12, "utc": true}, {"year": 2020, "month": 4, "date": 1, "utc": true}, {"year": 2020, "month": 4, "date": 8, "utc": true}, {"year": 2020, "month": 4, "date": 15, "utc": true}, {"year": 2020, "month": 4, "date": 23, "utc": true}],
                     "labels": false, "ticks": false, "domain": false, "grid": true, "gridColor": "#ebebeb",
                     "gridWidth": {"condition": {"test": "utcdate(datum.value) == 1 || utcdate(datum.value) == 15", "value": 1.1}, "value": 0.55}, "title": null}},
                 "y": {"field": "pct", "type": "quantitative", "title": null, "scale": {"domain": [-75.5, 23.5], "nice": false, "zero": false},
                   "axis": {"values": [-75, -62.5, -50, -37.5, -25, -12.5, 0, 12.5], "labelExpr": "datum.value % 25 == 0 ? '' + datum.value : ''",
                     "ticks": false, "domain": false, "grid": true, "gridColor": "#ebebeb",
                     "gridWidth": {"condition": {"test": "datum.value % 25 == 0", "value": 1.1}, "value": 0.55},
                     "labelFontSize": 9.5, "labelColor": "#4d4d4d", "labelPadding": 3, "title": null}}
               }},
              {"data": {"name": "sip"},
               "mark": {"type": "rule", "color": "#333333", "strokeDash": [5, 4], "strokeWidth": 1.5},
               "encoding": {"x": {"field": "date", "type": "temporal", "title": null}}}
            ]
          },
          {
            "width": 262, "height": 89,
            "title": {"text": "Transit", "fontSize": 9.5, "fontWeight": "normal", "color": "#1a1a1a", "offset": 5, "anchor": "middle", "frame": "group"},
            "layer": [
              {"data": {"name": "mobility"},
               "transform": [{"filter": "datum.cat === 'Transit'"}],
               "mark": {"type": "line", "color": "#a6a6a6", "strokeWidth": 1.3},
               "encoding": {
                 "x": {"field": "date", "type": "temporal", "title": null,
                   "scale": {"type": "utc", "domain": [{"year": 2020, "month": 2, "date": 11, "hours": 10, "minutes": 48, "utc": true}, {"year": 2020, "month": 4, "date": 29, "hours": 13, "minutes": 12, "utc": true}]},
                   "axis": {"values": [{"year": 2020, "month": 2, "date": 15, "utc": true}, {"year": 2020, "month": 2, "date": 22, "hours": 12, "utc": true}, {"year": 2020, "month": 3, "date": 1, "utc": true}, {"year": 2020, "month": 3, "date": 8, "utc": true}, {"year": 2020, "month": 3, "date": 15, "utc": true}, {"year": 2020, "month": 3, "date": 23, "hours": 12, "utc": true}, {"year": 2020, "month": 4, "date": 1, "utc": true}, {"year": 2020, "month": 4, "date": 8, "utc": true}, {"year": 2020, "month": 4, "date": 15, "utc": true}, {"year": 2020, "month": 4, "date": 23, "utc": true}],
                     "labelExpr": "utcdate(datum.value) == 1 || utcdate(datum.value) == 15 ? utcFormat(datum.value, '%b %d') : ''",
                     "labelFontSize": 9.5, "labelColor": "#4d4d4d", "labelPadding": 5,
                     "ticks": false, "domain": false, "grid": true, "gridColor": "#ebebeb",
                     "gridWidth": {"condition": {"test": "utcdate(datum.value) == 1 || utcdate(datum.value) == 15", "value": 1.1}, "value": 0.55}, "title": null}},
                 "y": {"field": "pct", "type": "quantitative", "title": null, "scale": {"domain": [-62.55, 15.55], "nice": false, "zero": false},
                   "axis": {"values": [-60, -50, -40, -30, -20, -10, 0, 10], "labelExpr": "datum.value % 20 == 0 ? '' + datum.value : ''",
                     "ticks": false, "domain": false, "grid": true, "gridColor": "#ebebeb",
                     "gridWidth": {"condition": {"test": "datum.value % 20 == 0", "value": 1.1}, "value": 0.55},
                     "labelFontSize": 9.5, "labelColor": "#4d4d4d", "labelPadding": 3, "title": null}}
               }},
              {"data": {"name": "sip"},
               "mark": {"type": "rule", "color": "#333333", "strokeDash": [5, 4], "strokeWidth": 1.5},
               "encoding": {"x": {"field": "date", "type": "temporal", "title": null}}}
            ]
          },
          {
            "width": 262, "height": 89,
            "title": {"text": "Work", "fontSize": 9.5, "fontWeight": "normal", "color": "#1a1a1a", "offset": 5, "anchor": "middle", "frame": "group"},
            "layer": [
              {"data": {"name": "mobility"},
               "transform": [{"filter": "datum.cat === 'Work'"}],
               "mark": {"type": "line", "color": "#5b1f91", "strokeWidth": 1.3},
               "encoding": {
                 "x": {"field": "date", "type": "temporal",
                   "scale": {"type": "utc", "domain": [{"year": 2020, "month": 2, "date": 11, "hours": 10, "minutes": 48, "utc": true}, {"year": 2020, "month": 4, "date": 29, "hours": 13, "minutes": 12, "utc": true}]},
                   "axis": {"values": [{"year": 2020, "month": 2, "date": 15, "utc": true}, {"year": 2020, "month": 2, "date": 22, "hours": 12, "utc": true}, {"year": 2020, "month": 3, "date": 1, "utc": true}, {"year": 2020, "month": 3, "date": 8, "utc": true}, {"year": 2020, "month": 3, "date": 15, "utc": true}, {"year": 2020, "month": 3, "date": 23, "hours": 12, "utc": true}, {"year": 2020, "month": 4, "date": 1, "utc": true}, {"year": 2020, "month": 4, "date": 8, "utc": true}, {"year": 2020, "month": 4, "date": 15, "utc": true}, {"year": 2020, "month": 4, "date": 23, "utc": true}],
                     "labelExpr": "utcdate(datum.value) == 1 || utcdate(datum.value) == 15 ? utcFormat(datum.value, '%b %d') : ''",
                     "labelFontSize": 9.5, "labelColor": "#4d4d4d", "labelPadding": 5,
                     "ticks": false, "domain": false, "grid": true, "gridColor": "#ebebeb",
                     "gridWidth": {"condition": {"test": "utcdate(datum.value) == 1 || utcdate(datum.value) == 15", "value": 1.1}, "value": 0.55},
                     "title": "Date", "titleFontSize": 13, "titleFontWeight": "normal", "titleColor": "#000000",
                     "titleX": 277, "titleY": 25, "titleAngle": 0, "titleBaseline": "middle", "titleAlign": "center"}},
                 "y": {"field": "pct", "type": "quantitative", "title": null, "scale": {"domain": [-59.05, 8.05], "nice": false, "zero": false},
                   "axis": {"values": [-50, -40, -30, -20, -10, 0], "labelExpr": "datum.value % 20 == 0 ? '' + datum.value : ''",
                     "ticks": false, "domain": false, "grid": true, "gridColor": "#ebebeb",
                     "gridWidth": {"condition": {"test": "datum.value % 20 == 0", "value": 1.1}, "value": 0.55},
                     "labelFontSize": 9.5, "labelColor": "#4d4d4d", "labelPadding": 3, "title": null}}
               }},
              {"data": {"name": "sip"},
               "mark": {"type": "rule", "color": "#333333", "strokeDash": [5, 4], "strokeWidth": 1.5},
               "encoding": {"x": {"field": "date", "type": "temporal", "axis": {"title": "Date"}}}}
            ]
          }
        ]
      }
    ],
    "spacing": 0, "bounds": "flush"
  }
]
}
